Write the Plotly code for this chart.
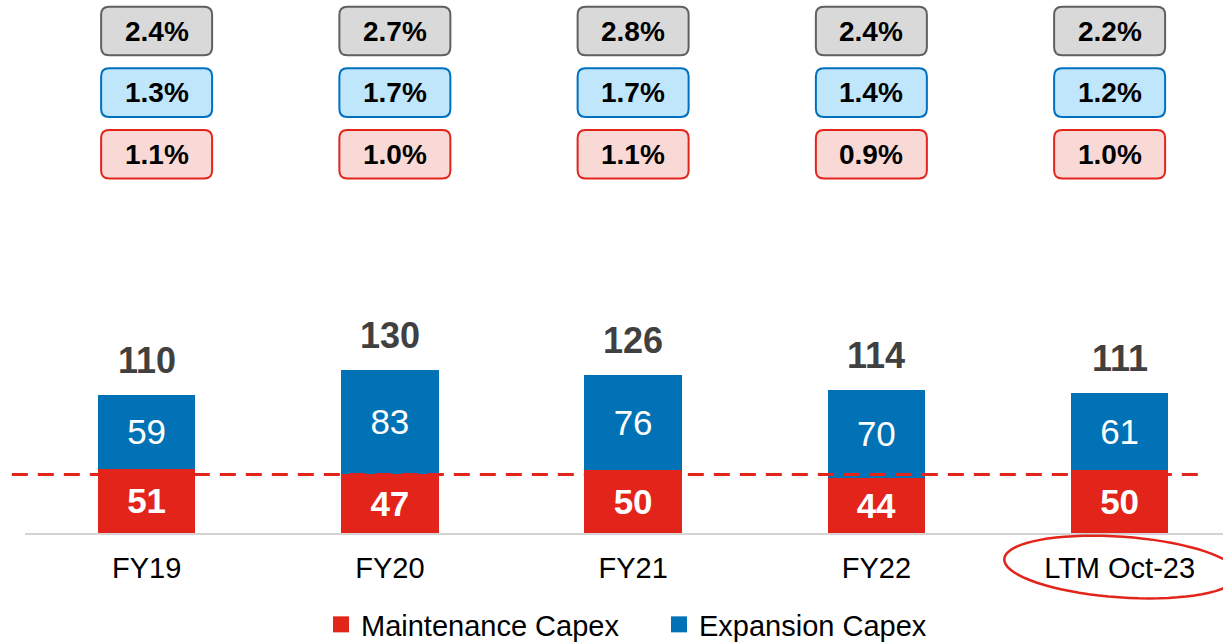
import numpy as np
import plotly.graph_objects as go

# ---- data ----
categories = ["FY19", "FY20", "FY21", "FY22", "LTM Oct-23"]
maintenance = [51, 47, 50, 44, 50]
expansion = [59, 83, 76, 70, 61]
totals = [m + e for m, e in zip(maintenance, expansion)]
total_pct = ["2.4%", "2.7%", "2.8%", "2.4%", "2.2%"]
expansion_pct = ["1.3%", "1.7%", "1.7%", "1.4%", "1.2%"]
maintenance_pct = ["1.1%", "1.0%", "1.1%", "0.9%", "1.0%"]
reference_level = 46.5

# ---- styles / layout geometry ----
RED = "#E3241B"
BLUE = "#0072B5"
FONT = "Liberation Sans, Arial, sans-serif"
FIG_W, FIG_H = 1223, 650
S = 642 / FIG_H                    # vertical factor of the final picture
L = 25                             # left margin
PLOT_W = FIG_W - L
PLOT_H = 532 / S                   # axis baseline at picture y=532
PX_PER_UNIT = 1.255 / S


def py(y):
    """picture y (from top) -> paper y"""
    return (PLOT_H - y / S) / PLOT_H


def px(x):
    """pixel x -> paper x"""
    return (x - L) / PLOT_W


fig = go.Figure()
fig.add_trace(go.Bar(
    x=categories, y=maintenance, name="Maintenance Capex",
    marker=dict(color=RED, line=dict(width=0)),
    text=maintenance, textposition="inside", insidetextanchor="middle",
    textangle=0, showlegend=False,
    textfont=dict(family=FONT, size=35, color="white", weight="bold"),
))
fig.add_trace(go.Bar(
    x=categories, y=expansion, name="Expansion Capex",
    marker=dict(color=BLUE, line=dict(width=0)),
    text=expansion, textposition="inside", insidetextanchor="middle",
    textangle=0, showlegend=False,
    textfont=dict(family=FONT, size=35, color="white"),
))
# legend entries with larger square icons
for nm, col in [("Maintenance Capex", RED), ("Expansion Capex", BLUE)]:
    fig.add_trace(go.Scatter(
        x=[None], y=[None], mode="markers", name=nm,
        marker=dict(symbol="square", size=16, color=col),
    ))

shapes = []
annotations = []

# totals above bars
for c, t in zip(categories, totals):
    annotations.append(dict(
        x=c, y=t, xref="x", yref="y", text=str(t), showarrow=False,
        yanchor="bottom", yshift=12,
        font=dict(family=FONT, size=36, color="#404040", weight="bold"),
    ))

# percentage boxes
rows = [
    (total_pct, py(31), "#D9D9D9", "#606060"),
    (expansion_pct, py(92.5), "#BFE6FB", "#0070C0"),
    (maintenance_pct, py(154), "#F8D9D6", RED),
]
W, H, R = 111, 48 / S, 8


def rrect(cx, w, h, r):
    x0, x1 = cx - w / 2, cx + w / 2
    y0, y1 = -h / 2, h / 2
    return (f"M{x0 + r},{y0} H{x1 - r} Q{x1},{y0} {x1},{y0 + r} "
            f"V{y1 - r} Q{x1},{y1} {x1 - r},{y1} H{x0 + r} "
            f"Q{x0},{y1} {x0},{y1 - r} V{y0 + r} Q{x0},{y0} {x0 + r},{y0} Z")


for vals, ypos, fill, border in rows:
    for i, (c, v) in enumerate(zip(categories, vals)):
        shift = (2 - i) * 5
        shapes.append(dict(
            type="path", xref="x", yref="paper",
            xsizemode="pixel", ysizemode="pixel",
            xanchor=i, yanchor=ypos,
            path=rrect(shift, W, H, R),
            fillcolor=fill, line=dict(color=border, width=2),
            layer="above",
        ))
        annotations.append(dict(
            x=c, y=ypos, xref="x", yref="paper", text=v, showarrow=False,
            xshift=shift, yanchor="middle",
            font=dict(family=FONT, size=28, color="#000000", weight="bold"),
        ))

# dashed reference line
shapes.append(dict(
    type="line", xref="x domain", yref="y",
    x0=-0.011, x1=0.985, y0=reference_level, y1=reference_level,
    line=dict(color=RED, width=3, dash="16px,10px"), layer="above",
))

# hand-drawn style highlight ellipse around the last category label
a, b, tilt = 117, 30 / S, np.radians(4)
t = np.linspace(0, 2 * np.pi, 73)
ex = a * np.cos(t) * np.cos(tilt) - b * np.sin(t) * np.sin(tilt)
ey = -a * np.cos(t) * np.sin(tilt) - b * np.sin(t) * np.cos(tilt)
ell = "M" + " L".join(f"{x:.1f},{y:.1f}" for x, y in zip(ex, ey))
shapes.append(dict(
    type="path", xref="paper", yref="paper",
    xsizemode="pixel", ysizemode="pixel",
    xanchor=px(1121), yanchor=py(566),
    path=ell, line=dict(color=RED, width=2.5),
    fillcolor="rgba(0,0,0,0)", layer="above",
))

fig.update_layout(
    width=FIG_W, height=FIG_H,
    margin=dict(l=L, r=0, t=0, b=FIG_H - PLOT_H),
    paper_bgcolor="white", plot_bgcolor="white",
    barmode="stack", bargap=0.6,
    showlegend=True,
    legend=dict(
        orientation="h", x=px(321), xanchor="left", y=py(623.5),
        yanchor="middle", traceorder="normal", entrywidth=293,
        font=dict(family=FONT, size=29, color="#000000"),
    ),
    xaxis=dict(
        range=[-0.5, 4.425], showgrid=False, zeroline=False,
        showline=True, linecolor="#D4D4D4", linewidth=2,
        ticks="", ticklabelstandoff=8,
        tickfont=dict(family=FONT, size=29, color="#000000"),
    ),
    yaxis=dict(range=[0, PLOT_H / PX_PER_UNIT], visible=False,
               showgrid=False),
    shapes=shapes,
    annotations=annotations,
    font=dict(family=FONT),
)

# the page's default 8px body margin would push the figure off the window
fig.write_html(
    "out.html",
    config={"displayModeBar": False},
    post_script="document.body.style.margin='0';"
                "document.documentElement.style.overflow='hidden';",
)
